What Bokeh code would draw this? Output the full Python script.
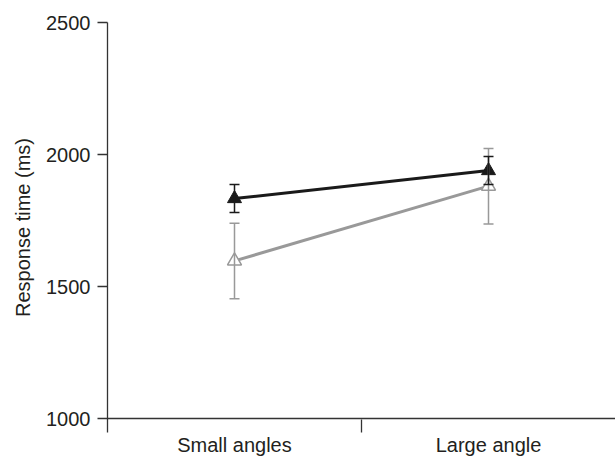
from bokeh.plotting import figure
from bokeh.models import (Range1d, FixedTicker, LinearAxis, ColumnDataSource, Whisker, TeeHead, Span)
from bokeh.embed import file_html
from bokeh.resources import INLINE

categories = ["Small angles", "Large angle"]
black_mean = [1833, 1939]
black_err = [53, 53]
gray_mean = [1597, 1880]
gray_err = [143, 143]
y_ticks = [1000, 1500, 2000, 2500]

xpos = list(range(len(categories)))

p = figure(frame_width=508, frame_height=410, output_backend="svg", toolbar_location=None,
           x_range=Range1d(-0.5, 1.5), y_range=Range1d(947, 2500),
           x_axis_location=None, y_axis_location=None,
           min_border_left=107, min_border_right=0, min_border_top=22, min_border_bottom=0)
p.outline_line_color = None
p.xgrid.visible = False
p.ygrid.visible = False
p.background_fill_color = "white"

font = "Liberation Sans"
txt = "#231f20"
axc = "#333333"

yaxis = LinearAxis(ticker=FixedTicker(ticks=y_ticks, minor_ticks=[]))
yaxis.axis_label = "Response time (ms)"
yaxis.axis_label_text_font = font
yaxis.axis_label_text_font_style = "normal"
yaxis.axis_label_text_font_size = "20px"
yaxis.axis_label_text_color = txt
yaxis.axis_label_standoff = 9
yaxis.major_label_text_font = font
yaxis.major_label_text_font_size = "20px"
yaxis.major_label_text_color = txt
yaxis.major_label_standoff = 7
yaxis.major_tick_out = 10
yaxis.major_tick_in = 0
yaxis.minor_tick_out = 0
yaxis.axis_line_color = axc
yaxis.major_tick_line_color = axc
yaxis.axis_line_width = 1.3
yaxis.major_tick_line_width = 1.3
p.add_layout(yaxis, "left")

xaxis = LinearAxis(ticker=FixedTicker(ticks=xpos, minor_ticks=[0.5]))
xaxis.major_label_overrides = {i: c for i, c in zip(xpos, categories)}
xaxis.major_label_text_font = font
xaxis.major_label_text_font_size = "20px"
xaxis.major_label_text_color = txt
xaxis.major_label_standoff = 1
xaxis.major_tick_out = 0
xaxis.major_tick_in = 0
xaxis.minor_tick_out = 0
xaxis.minor_tick_in = 13
xaxis.axis_line_color = None
xaxis.minor_tick_line_color = axc
xaxis.minor_tick_line_width = 1.3
p.add_layout(xaxis, "below")

p.add_layout(Span(location=y_ticks[0], dimension="width", line_color=axc, line_width=1.3))

black_c = "#1a1a1a"
gray_c = "#999999"

gsrc = ColumnDataSource(dict(x=xpos, y=gray_mean,
                             lo=[m - e for m, e in zip(gray_mean, gray_err)],
                             hi=[m + e for m, e in zip(gray_mean, gray_err)]))
bsrc = ColumnDataSource(dict(x=xpos, y=black_mean,
                             lo=[m - e for m, e in zip(black_mean, black_err)],
                             hi=[m + e for m, e in zip(black_mean, black_err)]))

gw = Whisker(source=gsrc, base="x", lower="lo", upper="hi", line_color=gray_c, line_width=1.5,
             lower_head=TeeHead(size=10, line_color=gray_c, line_width=1.5),
             upper_head=TeeHead(size=10, line_color=gray_c, line_width=1.5), level="glyph")
bw = Whisker(source=bsrc, base="x", lower="lo", upper="hi", line_color=black_c, line_width=1.5,
             lower_head=TeeHead(size=10, line_color=black_c, line_width=1.5),
             upper_head=TeeHead(size=10, line_color=black_c, line_width=1.5), level="glyph")
p.add_layout(gw)
p.add_layout(bw)

p.line("x", "y", source=gsrc, line_color=gray_c, line_width=3)
p.line("x", "y", source=bsrc, line_color=black_c, line_width=3)
p.scatter("x", "y", source=gsrc, marker="triangle", size=14, fill_color="white",
          line_color=gray_c, line_width=1.5)
p.scatter("x", "y", source=bsrc, marker="triangle", size=14, fill_color=black_c,
          line_color=black_c, line_width=1)

open("out.html", "w").write(file_html(p, INLINE))
